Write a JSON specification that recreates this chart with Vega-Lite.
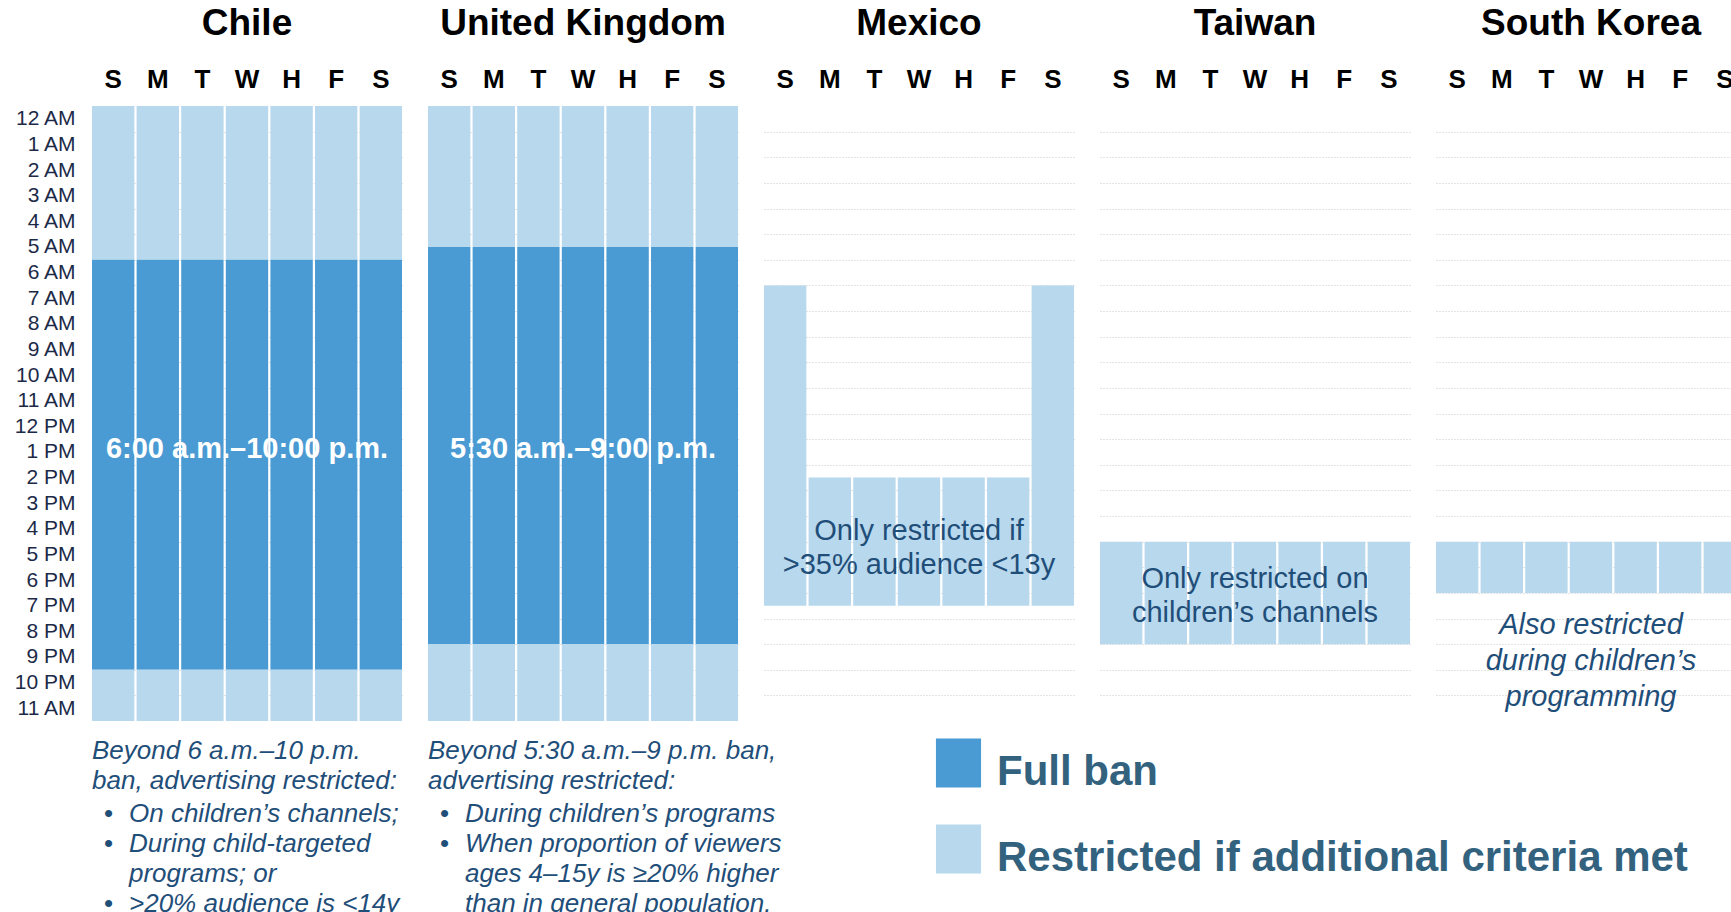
{
  "$schema": "https://vega.github.io/schema/vega-lite/v6.json",
  "padding": {"left": 14, "top": 5, "right": 0, "bottom": 0},
  "background": "white",
  "data": {"values": [
    {"country": "Chile", "kind": "cell", "day": "Su", "start": 0, "end": 6, "level": "Restricted if additional criteria met"},
    {"country": "Chile", "kind": "cell", "day": "Su", "start": 6, "end": 22, "level": "Full ban"},
    {"country": "Chile", "kind": "cell", "day": "Su", "start": 22, "end": 24, "level": "Restricted if additional criteria met"},
    {"country": "Chile", "kind": "cell", "day": "M", "start": 0, "end": 6, "level": "Restricted if additional criteria met"},
    {"country": "Chile", "kind": "cell", "day": "M", "start": 6, "end": 22, "level": "Full ban"},
    {"country": "Chile", "kind": "cell", "day": "M", "start": 22, "end": 24, "level": "Restricted if additional criteria met"},
    {"country": "Chile", "kind": "cell", "day": "T", "start": 0, "end": 6, "level": "Restricted if additional criteria met"},
    {"country": "Chile", "kind": "cell", "day": "T", "start": 6, "end": 22, "level": "Full ban"},
    {"country": "Chile", "kind": "cell", "day": "T", "start": 22, "end": 24, "level": "Restricted if additional criteria met"},
    {"country": "Chile", "kind": "cell", "day": "W", "start": 0, "end": 6, "level": "Restricted if additional criteria met"},
    {"country": "Chile", "kind": "cell", "day": "W", "start": 6, "end": 22, "level": "Full ban"},
    {"country": "Chile", "kind": "cell", "day": "W", "start": 22, "end": 24, "level": "Restricted if additional criteria met"},
    {"country": "Chile", "kind": "cell", "day": "H", "start": 0, "end": 6, "level": "Restricted if additional criteria met"},
    {"country": "Chile", "kind": "cell", "day": "H", "start": 6, "end": 22, "level": "Full ban"},
    {"country": "Chile", "kind": "cell", "day": "H", "start": 22, "end": 24, "level": "Restricted if additional criteria met"},
    {"country": "Chile", "kind": "cell", "day": "F", "start": 0, "end": 6, "level": "Restricted if additional criteria met"},
    {"country": "Chile", "kind": "cell", "day": "F", "start": 6, "end": 22, "level": "Full ban"},
    {"country": "Chile", "kind": "cell", "day": "F", "start": 22, "end": 24, "level": "Restricted if additional criteria met"},
    {"country": "Chile", "kind": "cell", "day": "Sa", "start": 0, "end": 6, "level": "Restricted if additional criteria met"},
    {"country": "Chile", "kind": "cell", "day": "Sa", "start": 6, "end": 22, "level": "Full ban"},
    {"country": "Chile", "kind": "cell", "day": "Sa", "start": 22, "end": 24, "level": "Restricted if additional criteria met"},
    {"country": "United Kingdom", "kind": "cell", "day": "Su", "start": 0, "end": 5.5, "level": "Restricted if additional criteria met"},
    {"country": "United Kingdom", "kind": "cell", "day": "Su", "start": 5.5, "end": 21, "level": "Full ban"},
    {"country": "United Kingdom", "kind": "cell", "day": "Su", "start": 21, "end": 24, "level": "Restricted if additional criteria met"},
    {"country": "United Kingdom", "kind": "cell", "day": "M", "start": 0, "end": 5.5, "level": "Restricted if additional criteria met"},
    {"country": "United Kingdom", "kind": "cell", "day": "M", "start": 5.5, "end": 21, "level": "Full ban"},
    {"country": "United Kingdom", "kind": "cell", "day": "M", "start": 21, "end": 24, "level": "Restricted if additional criteria met"},
    {"country": "United Kingdom", "kind": "cell", "day": "T", "start": 0, "end": 5.5, "level": "Restricted if additional criteria met"},
    {"country": "United Kingdom", "kind": "cell", "day": "T", "start": 5.5, "end": 21, "level": "Full ban"},
    {"country": "United Kingdom", "kind": "cell", "day": "T", "start": 21, "end": 24, "level": "Restricted if additional criteria met"},
    {"country": "United Kingdom", "kind": "cell", "day": "W", "start": 0, "end": 5.5, "level": "Restricted if additional criteria met"},
    {"country": "United Kingdom", "kind": "cell", "day": "W", "start": 5.5, "end": 21, "level": "Full ban"},
    {"country": "United Kingdom", "kind": "cell", "day": "W", "start": 21, "end": 24, "level": "Restricted if additional criteria met"},
    {"country": "United Kingdom", "kind": "cell", "day": "H", "start": 0, "end": 5.5, "level": "Restricted if additional criteria met"},
    {"country": "United Kingdom", "kind": "cell", "day": "H", "start": 5.5, "end": 21, "level": "Full ban"},
    {"country": "United Kingdom", "kind": "cell", "day": "H", "start": 21, "end": 24, "level": "Restricted if additional criteria met"},
    {"country": "United Kingdom", "kind": "cell", "day": "F", "start": 0, "end": 5.5, "level": "Restricted if additional criteria met"},
    {"country": "United Kingdom", "kind": "cell", "day": "F", "start": 5.5, "end": 21, "level": "Full ban"},
    {"country": "United Kingdom", "kind": "cell", "day": "F", "start": 21, "end": 24, "level": "Restricted if additional criteria met"},
    {"country": "United Kingdom", "kind": "cell", "day": "Sa", "start": 0, "end": 5.5, "level": "Restricted if additional criteria met"},
    {"country": "United Kingdom", "kind": "cell", "day": "Sa", "start": 5.5, "end": 21, "level": "Full ban"},
    {"country": "United Kingdom", "kind": "cell", "day": "Sa", "start": 21, "end": 24, "level": "Restricted if additional criteria met"},
    {"country": "Mexico", "kind": "cell", "day": "Su", "start": 7, "end": 19.5, "level": "Restricted if additional criteria met"},
    {"country": "Mexico", "kind": "cell", "day": "M", "start": 14.5, "end": 19.5, "level": "Restricted if additional criteria met"},
    {"country": "Mexico", "kind": "cell", "day": "T", "start": 14.5, "end": 19.5, "level": "Restricted if additional criteria met"},
    {"country": "Mexico", "kind": "cell", "day": "W", "start": 14.5, "end": 19.5, "level": "Restricted if additional criteria met"},
    {"country": "Mexico", "kind": "cell", "day": "H", "start": 14.5, "end": 19.5, "level": "Restricted if additional criteria met"},
    {"country": "Mexico", "kind": "cell", "day": "F", "start": 14.5, "end": 19.5, "level": "Restricted if additional criteria met"},
    {"country": "Mexico", "kind": "cell", "day": "Sa", "start": 7, "end": 19.5, "level": "Restricted if additional criteria met"},
    {"country": "Taiwan", "kind": "cell", "day": "Su", "start": 17, "end": 21, "level": "Restricted if additional criteria met"},
    {"country": "Taiwan", "kind": "cell", "day": "M", "start": 17, "end": 21, "level": "Restricted if additional criteria met"},
    {"country": "Taiwan", "kind": "cell", "day": "T", "start": 17, "end": 21, "level": "Restricted if additional criteria met"},
    {"country": "Taiwan", "kind": "cell", "day": "W", "start": 17, "end": 21, "level": "Restricted if additional criteria met"},
    {"country": "Taiwan", "kind": "cell", "day": "H", "start": 17, "end": 21, "level": "Restricted if additional criteria met"},
    {"country": "Taiwan", "kind": "cell", "day": "F", "start": 17, "end": 21, "level": "Restricted if additional criteria met"},
    {"country": "Taiwan", "kind": "cell", "day": "Sa", "start": 17, "end": 21, "level": "Restricted if additional criteria met"},
    {"country": "South Korea", "kind": "cell", "day": "Su", "start": 17, "end": 19, "level": "Restricted if additional criteria met"},
    {"country": "South Korea", "kind": "cell", "day": "M", "start": 17, "end": 19, "level": "Restricted if additional criteria met"},
    {"country": "South Korea", "kind": "cell", "day": "T", "start": 17, "end": 19, "level": "Restricted if additional criteria met"},
    {"country": "South Korea", "kind": "cell", "day": "W", "start": 17, "end": 19, "level": "Restricted if additional criteria met"},
    {"country": "South Korea", "kind": "cell", "day": "H", "start": 17, "end": 19, "level": "Restricted if additional criteria met"},
    {"country": "South Korea", "kind": "cell", "day": "F", "start": 17, "end": 19, "level": "Restricted if additional criteria met"},
    {"country": "South Korea", "kind": "cell", "day": "Sa", "start": 17, "end": 19, "level": "Restricted if additional criteria met"},
    {"country": "Chile", "kind": "ban", "label": "6:00 a.m.–10:00 p.m.", "start": 13.4},
    {"country": "United Kingdom", "kind": "ban", "label": "5:30 a.m.–9:00 p.m.", "start": 13.4},
    {"country": "Mexico", "kind": "inside", "label": "Only restricted if\n>35% audience <13y", "start": 16.6},
    {"country": "Taiwan", "kind": "inside", "label": "Only restricted on\nchildren’s channels", "start": 18.44},
    {"country": "South Korea", "kind": "below", "label": "Also restricted\nduring children’s\nprogramming", "start": 20.26},
    {"country": "Chile", "kind": "intro", "label": "Beyond 6 a.m.–10 p.m.\nban, advertising restricted:", "start": 24},
    {"country": "Chile", "kind": "bullet", "label": "•\n•", "start": 24},
    {"country": "Chile", "kind": "lastbullet", "label": "•", "start": 24},
    {"country": "Chile", "kind": "item", "label": "On children’s channels;\nDuring child-targeted\nprograms; or\n>20% audience is <14y", "start": 24},
    {"country": "United Kingdom", "kind": "intro", "label": "Beyond 5:30 a.m.–9 p.m. ban,\nadvertising restricted:", "start": 24},
    {"country": "United Kingdom", "kind": "bullet", "label": "•\n•", "start": 24},
    {"country": "United Kingdom", "kind": "item", "label": "During children’s programs\nWhen proportion of viewers\nages 4–15y is ≥20% higher\nthan in general population.", "start": 24}
  ]},
  "facet": {
    "column": {
      "field": "country", "type": "nominal", "title": null,
      "sort": ["Chile", "United Kingdom", "Mexico", "Taiwan", "South Korea"],
      "header": {"labelFontSize": 37, "labelFontWeight": "bold", "labelColor": "#000000", "labelFont": "Liberation Sans", "labelPadding": 23}
    }
  },
  "spacing": 26,
  "bounds": "flush",
  "spec": {
    "width": 310,
    "height": 615,
    "encoding": {
      "x": {
        "field": "day", "type": "nominal", "title": null,
        "scale": {"domain": ["Su", "M", "T", "W", "H", "F", "Sa"], "paddingInner": 0.05, "paddingOuter": 0},
        "axis": {"orient": "top", "labelAngle": 0, "ticks": false, "domain": false, "labelFontSize": 26, "labelFontWeight": "bold", "labelColor": "#000000", "labelPadding": 14,
                 "labelExpr": "datum.value == 'Su' || datum.value == 'Sa' ? 'S' : datum.value"}
      },
      "y": {
        "field": "start", "type": "quantitative", "title": null,
        "scale": {"domain": [0, 24], "reverse": true, "nice": false, "zero": false},
        "axis": {
          "values": [0, 1, 2, 3, 4, 5, 6, 7, 8, 9, 10, 11, 12, 13, 14, 15, 16, 17, 18, 19, 20, 21, 22, 23],
          "labelExpr": "['12 AM','1 AM','2 AM','3 AM','4 AM','5 AM','6 AM','7 AM','8 AM','9 AM','10 AM','11 AM','12 PM','1 PM','2 PM','3 PM','4 PM','5 PM','6 PM','7 PM','8 PM','9 PM','10 PM','11 AM'][datum.value]",
          "labelOffset": 12.8, "labelFontSize": 21, "labelColor": "#1c2a48", "labelPadding": 17,
          "ticks": false, "domain": false, "labelOverlap": false, "labelFlush": false, "labelBound": false,
          "grid": true, "gridDash": [1, 2], "gridColor": "#c8c8c8", "gridWidth": 1,
          "gridOpacity": {"condition": {"test": "datum.value === 0", "value": 0}, "value": 1}
        }
      }
    },
    "layer": [
      {
        "transform": [{"filter": "datum.kind == 'cell'"}],
        "mark": {"type": "bar", "strokeWidth": 0},
        "encoding": {
          "y2": {"field": "end"},
          "color": {
            "field": "level", "type": "nominal",
            "scale": {"domain": ["Full ban", "Restricted if additional criteria met"], "range": ["#4a9bd3", "#b8d8ed"]},
            "legend": {
              "orient": "none", "legendX": 843, "legendY": 642, "title": null, "direction": "vertical",
              "symbolType": "M-0.96,-1.4H0.96V0.68H-0.96Z", "symbolSize": 2209, "symbolStrokeWidth": 0, "symbolOpacity": 1,
              "labelFontSize": 42, "labelFontWeight": "bold", "labelColor": "#33627f", "labelOffset": 15,
              "labelLimit": 1200, "rowPadding": 31, "padding": 0, "labelBaseline": "middle"
            }
          }
        }
      },
      {
        "transform": [{"filter": "datum.kind == 'ban'"}],
        "mark": {"type": "text", "color": "#ffffff", "fontSize": 29, "fontWeight": "bold", "baseline": "middle", "align": "center"},
        "encoding": {
          "x": {"datum": "W"},
          "text": {"field": "label"}
        }
      },
      {
        "transform": [{"filter": "datum.kind == 'inside'"}],
        "mark": {"type": "text", "color": "#1f4e79", "fontSize": 29, "baseline": "middle", "align": "center", "lineBreak": "\n", "lineHeight": 34},
        "encoding": {
          "x": {"datum": "W"},
          "text": {"field": "label"}
        }
      },
      {
        "transform": [{"filter": "datum.kind == 'below'"}],
        "mark": {"type": "text", "color": "#1f4e79", "fontSize": 29, "fontStyle": "italic", "baseline": "middle", "align": "center", "lineBreak": "\n", "lineHeight": 36},
        "encoding": {
          "x": {"datum": "W"},
          "text": {"field": "label"}
        }
      },
      {
        "transform": [{"filter": "datum.kind == 'intro'"}],
        "mark": {"type": "text", "color": "#1f4e79", "fontSize": 26, "fontStyle": "italic", "baseline": "top", "align": "left", "lineBreak": "\n", "lineHeight": 30, "dy": 17},
        "encoding": {
          "x": {"datum": "Su", "bandPosition": 0},
          "text": {"field": "label"}
        }
      },
      {
        "transform": [{"filter": "datum.kind == 'bullet'"}],
        "mark": {"type": "text", "color": "#1f4e79", "fontSize": 26, "baseline": "top", "align": "left", "lineBreak": "\n", "lineHeight": 30, "dy": 80, "dx": 12},
        "encoding": {
          "x": {"datum": "Su", "bandPosition": 0},
          "text": {"field": "label"}
        }
      },
      {
        "transform": [{"filter": "datum.kind == 'lastbullet'"}],
        "mark": {"type": "text", "color": "#1f4e79", "fontSize": 26, "baseline": "top", "align": "left", "dy": 170, "dx": 12},
        "encoding": {
          "x": {"datum": "Su", "bandPosition": 0},
          "text": {"field": "label"}
        }
      },
      {
        "transform": [{"filter": "datum.kind == 'item'"}],
        "mark": {"type": "text", "color": "#1f4e79", "fontSize": 26, "fontStyle": "italic", "baseline": "top", "align": "left", "lineBreak": "\n", "lineHeight": 30, "dy": 80, "dx": 37},
        "encoding": {
          "x": {"datum": "Su", "bandPosition": 0},
          "text": {"field": "label"}
        }
      }
    ]
  },
  "config": {
    "view": {"stroke": null},
    "font": "Liberation Sans"
  }
}
